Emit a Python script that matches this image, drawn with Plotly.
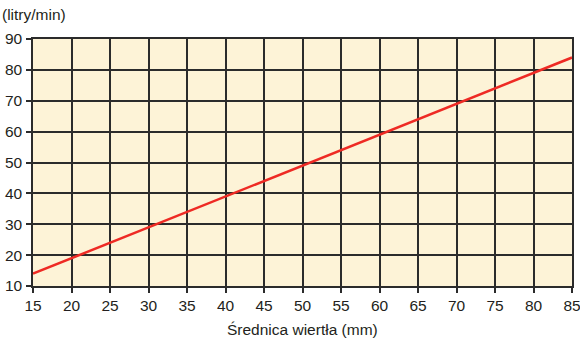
import plotly.graph_objects as go

# Drill diameter (mm) vs. flow rate (litres/min)
diameter_mm = [15, 85]
flow_lpm = [14, 84]

x_ticks = list(range(15, 90, 5))
y_ticks = list(range(10, 100, 10))

grid_col = "#2b2b2b"
font_family = "Liberation Sans, Arial, sans-serif"

fig = go.Figure()
fig.add_trace(go.Scatter(
    x=diameter_mm, y=flow_lpm, mode="lines",
    line=dict(color="#ee2a24", width=2.5),
    hoverinfo="skip", showlegend=False,
))

fig.update_layout(
    width=580, height=345,
    margin=dict(l=33, r=8, t=39, b=59, autoexpand=False),
    paper_bgcolor="white",
    plot_bgcolor="#fdf3d7",
    font=dict(family=font_family, size=15, color="#231f20"),
    xaxis=dict(
        range=[15, 85], tickvals=x_ticks, ticks="outside", ticklen=5,
        tickcolor=grid_col, tickwidth=1.5, automargin=False,
        ticklabeloverflow="allow",
        showgrid=True, gridcolor=grid_col, gridwidth=1.5,
        showline=True, linecolor=grid_col, linewidth=1.5, mirror=True,
        zeroline=False, tickfont=dict(size=15.5),
    ),
    yaxis=dict(
        range=[10, 90], tickvals=y_ticks, ticks="outside", ticklen=5,
        tickcolor=grid_col, tickwidth=1.5, automargin=False,
        ticklabeloverflow="allow",
        showgrid=True, gridcolor=grid_col, gridwidth=1.5,
        showline=True, linecolor=grid_col, linewidth=1.5, mirror=True,
        zeroline=False, tickfont=dict(size=15.5), ticklabelstandoff=1,
    ),
    annotations=[
        dict(text="(litry/min)", xref="paper", yref="paper", x=0, y=1,
             xshift=-33, yshift=25, xanchor="left", yanchor="middle",
             showarrow=False, font=dict(size=15.5)),
        dict(text="Średnica wiertła (mm)", xref="paper", yref="paper",
             x=0.5, y=0, yshift=-43, xanchor="center", yanchor="middle",
             showarrow=False, font=dict(size=15.5)),
    ],
)

fig.write_html("out.html")
